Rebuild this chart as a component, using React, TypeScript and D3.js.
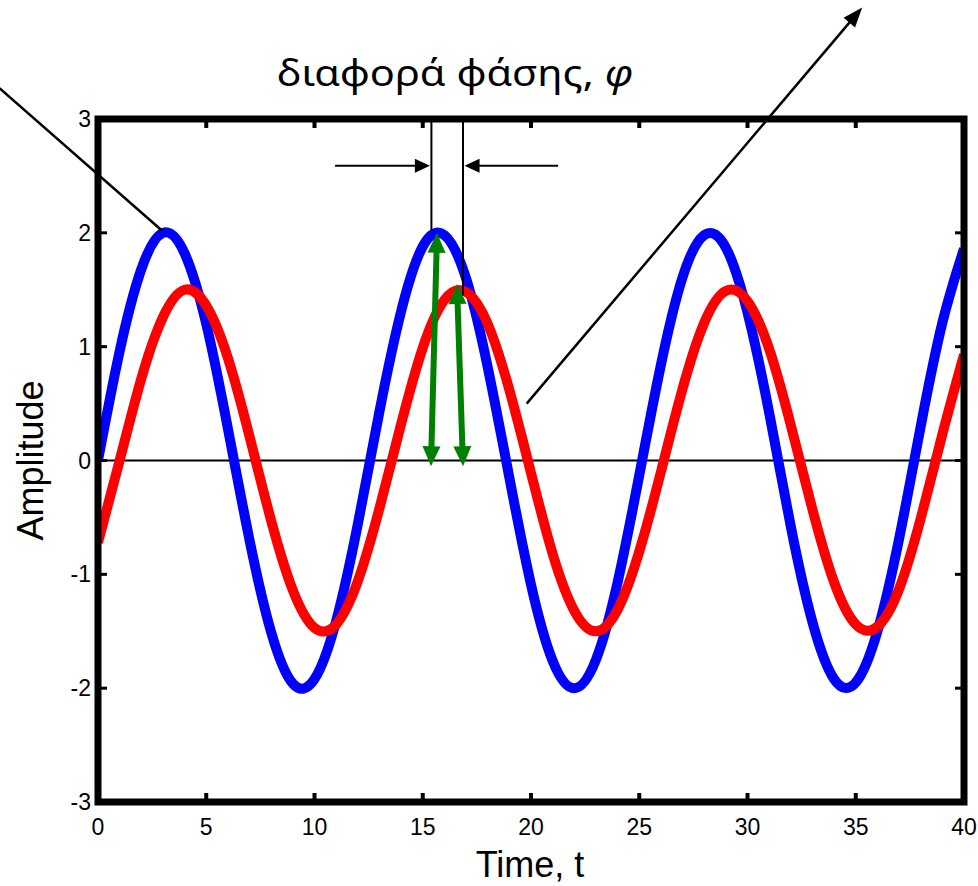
import React from "react";
import * as d3 from "d3";

const timeValues = [0,1,2,3,4,5,6,7,8,9,10,11,12,13,14,15,16,17,18,19,20,21,22,23,24,25,26,27,28,29,30,31,32,33,34,35,36,37,38,39,40];
const blueValues = [0,0.96,1.68,2.0,1.82,1.2,0.28,-0.7,-1.51,-1.96,-1.92,-1.41,-0.56,0.43,1.31,1.88,1.98,1.6,0.82,-0.15,-1.09,-1.76,-2.0,-1.75,-1.07,-0.13,0.84,1.61,1.98,1.87,1.3,0.42,-0.58,-1.42,-1.92,-1.95,-1.5,-0.69,0.3,1.21,1.86];
const redValues = [-0.72,0,0.72,1.26,1.5,1.36,0.9,0.21,-0.53,-1.14,-1.47,-1.44,-1.06,-0.42,0.32,0.99,1.41,1.48,1.2,0.62,-0.11,-0.82,-1.32,-1.5,-1.31,-0.8,-0.1,0.63,1.21,1.49,1.4,0.98,0.31,-0.43,-1.07,-1.44,-1.46,-1.13,-0.51,0.23,0.93];
const xTicks = [0,5,10,15,20,25,30,35,40];
const yTicks = [-3,-2,-1,0,1,2,3];
const titleText = "διαφορά φάσης, ";
const titleSymbol = "φ";
const xLabel = "Time, t";
const yLabel = "Amplitude";
// annotations in data units
const phaseLines = [ { t: 15.4, top: 3, bottom: 2.02 }, { t: 16.86, top: 3, bottom: 1.45 } ];
const greenArrows = [ { t0: 15.38, v0: -0.05, t1: 15.66, v1: 2.0 }, { t0: 16.86, v0: -0.05, t1: 16.58, v1: 1.55 } ];
const phaseArrows = [ { t0: 10.95, t1: 15.33, v: 2.59 }, { t0: 21.25, t1: 16.93, v: 2.59 } ];
const pointerLines = [ { t0: -4.55, v0: 3.27, t1: 2.95, v1: 2.02, head: false }, { t0: 19.8, v0: 0.5, t1: 35.3, v1: 3.98, head: true } ];

const W = 978, H = 886;
const x = d3.scaleLinear().domain([0, 40]).range([98, 964]);
const y = d3.scaleLinear().domain([-3, 3]).range([802, 119]);

function arrowHead(xt: number, yt: number, xf: number, yf: number, len: number, wid: number) {
  const dx = xt - xf, dy = yt - yf;
  const L = Math.hypot(dx, dy);
  const ux = dx / L, uy = dy / L;
  const bx = xt - ux * len, by = yt - uy * len;
  const px = -uy * wid / 2, py = ux * wid / 2;
  return `M${xt},${yt}L${bx + px},${by + py}L${bx - px},${by - py}Z`;
}

export default function App() {
  const line = d3.line<number>().x((_, i) => x(timeValues[i])).y(d => y(d)).curve(d3.curveNatural);
  const font = "Liberation Sans, Arial, sans-serif";
  return (
    <svg width={W} height={H} style={{ position: "absolute", left: 0, top: 0, background: "#fff" }}>
      <defs>
        <clipPath id="plotclip">
          <rect x={x(0)} y={y(3)} width={x(40) - x(0)} height={y(-3) - y(3)} />
        </clipPath>
      </defs>
      <rect width={W} height={H} fill="#fff" />
      {/* zero line */}
      <line x1={x(0)} x2={x(40)} y1={y(0)} y2={y(0)} stroke="#000" strokeWidth={2} />
      <g clipPath="url(#plotclip)">
        <path d={line(blueValues) || ""} fill="none" stroke="#0000ff" strokeWidth={10} strokeLinejoin="round" />
        <path d={line(redValues) || ""} fill="none" stroke="#ff0000" strokeWidth={10} strokeLinejoin="round" />
      </g>
      {/* phase vertical lines */}
      {phaseLines.map((p, i) => (
        <line key={"pl" + i} x1={x(p.t)} x2={x(p.t)} y1={y(p.top)} y2={y(p.bottom)} stroke="#000" strokeWidth={2} />
      ))}
      {/* horizontal phase arrows */}
      {phaseArrows.map((a, i) => (
        <g key={"pa" + i}>
          <line x1={x(a.t0)} x2={x(a.t1) + (a.t1 > a.t0 ? -10 : 10)} y1={y(a.v)} y2={y(a.v)} stroke="#000" strokeWidth={2} />
          <path d={arrowHead(x(a.t1), y(a.v), x(a.t0), y(a.v), 15, 14)} fill="#000" />
        </g>
      ))}
      {/* green double arrows */}
      {greenArrows.map((a, i) => {
        const X0 = x(a.t0), Y0 = y(a.v0), X1 = x(a.t1), Y1 = y(a.v1);
        const L = Math.hypot(X1 - X0, Y1 - Y0);
        const ux = (X1 - X0) / L, uy = (Y1 - Y0) / L;
        return (
          <g key={"ga" + i}>
            <line x1={X0 + ux * 12} y1={Y0 + uy * 12} x2={X1 - ux * 12} y2={Y1 - uy * 12} stroke="#008000" strokeWidth={6} />
            <path d={arrowHead(X0, Y0, X1, Y1, 20, 18)} fill="#008000" />
            <path d={arrowHead(X1, Y1, X0, Y0, 20, 18)} fill="#008000" />
          </g>
        );
      })}
      {/* axes box */}
      <rect x={x(0)} y={y(3)} width={x(40) - x(0)} height={y(-3) - y(3)} fill="none" stroke="#000" strokeWidth={7} />
      {/* ticks */}
      {xTicks.slice(1, -1).map(t => (
        <g key={"xt" + t}>
          <line x1={x(t)} x2={x(t)} y1={y(-3)} y2={y(-3) - 9} stroke="#000" strokeWidth={4} />
          <line x1={x(t)} x2={x(t)} y1={y(3)} y2={y(3) + 9} stroke="#000" strokeWidth={4} />
        </g>
      ))}
      {yTicks.slice(1, -1).map(v => (
        <g key={"yt" + v}>
          <line x1={x(0)} x2={x(0) + 9} y1={y(v)} y2={y(v)} stroke="#000" strokeWidth={3} />
          <line x1={x(40)} x2={x(40) - 9} y1={y(v)} y2={y(v)} stroke="#000" strokeWidth={3} />
        </g>
      ))}
      {xTicks.map(t => (
        <text key={"xl" + t} x={x(t)} y={835} textAnchor="middle" fontFamily={font} fontSize={23}>{t}</text>
      ))}
      {yTicks.map(v => (
        <text key={"yl" + v} x={91} y={y(v) + 8} textAnchor="end" fontFamily={font} fontSize={23}>{v}</text>
      ))}
      {/* pointer lines */}
      {pointerLines.map((p, i) => {
        const X0 = x(p.t0), Y0 = y(p.v0), X1 = x(p.t1), Y1 = y(p.v1);
        const L = Math.hypot(X1 - X0, Y1 - Y0);
        const ux = (X1 - X0) / L, uy = (Y1 - Y0) / L;
        return (
          <g key={"pt" + i}>
            <line x1={X0} y1={Y0} x2={p.head ? X1 - ux * 12 : X1} y2={p.head ? Y1 - uy * 12 : Y1} stroke="#000" strokeWidth={2.5} />
            {p.head && <path d={arrowHead(X1, Y1, X0, Y0, 20, 15)} fill="#000" />}
          </g>
        );
      })}
      {/* labels */}
      <text x={455} y={86} textAnchor="middle" fontFamily="Noto Sans, Open Sans, sans-serif" fontSize={36} textLength={356} lengthAdjust="spacingAndGlyphs">
        {titleText}<tspan fontStyle="italic">{titleSymbol}</tspan>
      </text>
      <text x={530} y={877} textAnchor="middle" fontFamily={font} fontSize={36}>{xLabel}</text>
      <text transform={`translate(43,${y(0)}) rotate(-90)`} textAnchor="middle" fontFamily={font} fontSize={36}>{yLabel}</text>
    </svg>
  );
}
